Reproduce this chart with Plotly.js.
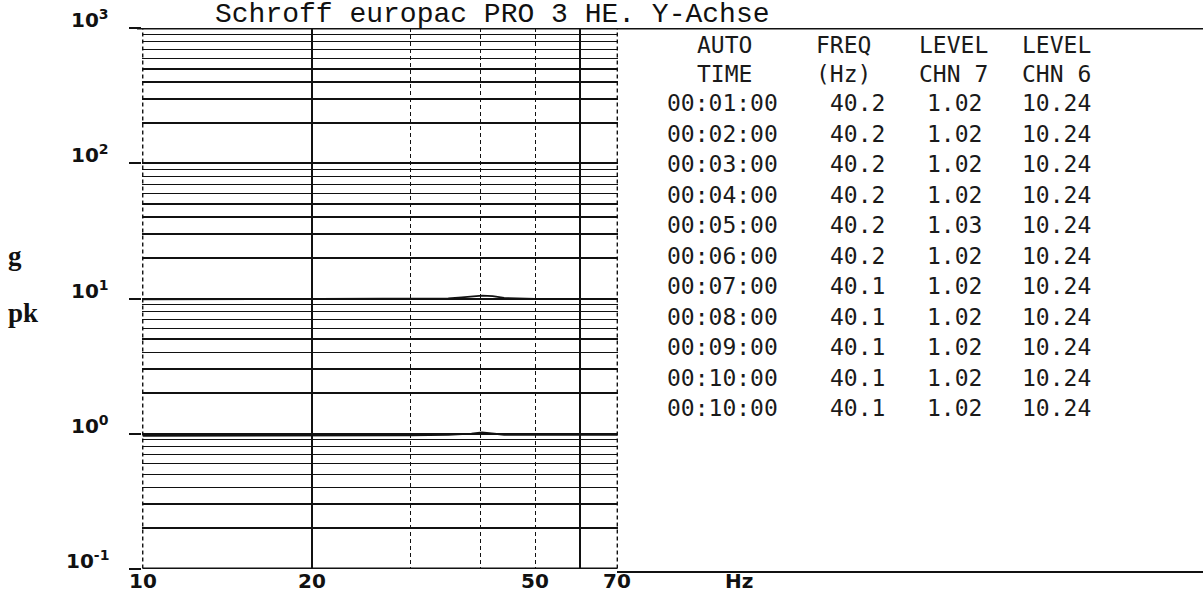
<!DOCTYPE html>
<html>
<head>
<meta charset="utf-8">
<script src="https://cdn.plot.ly/plotly-3.0.1.min.js"></script>
<style>html,body{margin:0;padding:0;background:#fff;}#chart{width:1203px;height:598px;}</style>
</head>
<body>
<div id="chart"></div>
<script>
// ---- data ----
const titleText = "Schroff europac PRO 3 HE. Y-Achse";
const yDecades = [0.1, 1, 10, 100, 1000];
const yDecadeLabels = ["10<sup>-1</sup>", "10<sup>0</sup>", "10<sup>1</sup>", "10<sup>2</sup>", "10<sup>3</sup>"];
const yMinorMultipliers = [2, 3, 4, 5, 6, 7, 8, 9];
const xLabelVals = [10, 20, 50, 70];
const xLabelText = ["10", "20", "50", "70"];
const xSolidLines = [20, 60];
const xDashedLines = [10, 30, 40, 50, 70];
const xRangeHz = [10, 70];
const yRangeG = [0.1, 1000];
const xUnit = "Hz";
const yUnitTop = "g";
const yUnitBottom = "pk";

// spectrum traces (g pk)
const freqHz = [10, 15, 20, 25, 30, 35, 37, 38.5, 40.2, 42, 44, 50, 60, 70];
const chn6g = [9.85, 9.9, 9.9, 9.9, 9.95, 10.0, 10.2, 10.4, 10.5, 10.4, 10.1, 9.95, 9.9, 9.9];
const chn7g = [0.96, 0.96, 0.97, 0.97, 0.97, 0.98, 0.99, 1.0, 1.02, 1.0, 0.98, 0.98, 0.98, 0.98];

// table
const tableHeaders = [["AUTO", "TIME"], ["FREQ", "(Hz)"], ["LEVEL", "CHN 7"], ["LEVEL", "CHN 6"]];
const autoTimes = ["00:01:00", "00:02:00", "00:03:00", "00:04:00", "00:05:00", "00:06:00", "00:07:00", "00:08:00", "00:09:00", "00:10:00", "00:10:00"];
const freqValues = [40.2, 40.2, 40.2, 40.2, 40.2, 40.2, 40.1, 40.1, 40.1, 40.1, 40.1];
const levelChn7 = [1.02, 1.02, 1.02, 1.02, 1.03, 1.02, 1.02, 1.02, 1.02, 1.02, 1.02];
const levelChn6 = [10.24, 10.24, 10.24, 10.24, 10.24, 10.24, 10.24, 10.24, 10.24, 10.24, 10.24];

// ---- layout geometry (pixels) ----
const W = 1203, H = 598;
const L = 142, R = 585, T = 28, B = 29;
const plotW = W - L - R, plotH = H - T - B;
const px = x => (x - L) / plotW;
const py = y => (H - B - y) / plotH;

const yMinor = [];
yDecades.slice(0, -1).forEach(d => yMinorMultipliers.forEach(m => yMinor.push(d * m)));

const ink = "#111";
const tickFont = {family: "DejaVu Sans", size: 20, color: ink, weight: 700};
const tableFont = {family: "DejaVu Sans Mono", size: 23, color: "#1a1a1a"};

const annotations = [];
annotations.push({text: titleText, xref: "paper", yref: "paper", x: px(213), y: py(15),
  xanchor: "left", yanchor: "middle", showarrow: false,
  font: {family: "Liberation Mono", size: 28, color: ink}});
yDecades.forEach((d, i) => annotations.push({text: yDecadeLabels[i], xref: "paper", yref: "y",
  x: px(111), y: Math.log10(d), xanchor: "right", yanchor: "bottom", yshift: -6,
  showarrow: false, font: tickFont}));
xLabelVals.forEach((v, i) => annotations.push({text: xLabelText[i], xref: "x", yref: "paper",
  x: Math.log10(v), y: py(581), xanchor: "center", yanchor: "middle", showarrow: false, font: tickFont}));
annotations.push({text: xUnit, xref: "paper", yref: "paper", x: px(739), y: py(581),
  xanchor: "center", yanchor: "middle", showarrow: false, font: tickFont});
annotations.push({text: yUnitTop, xref: "paper", yref: "paper", x: px(6), y: py(256),
  xanchor: "left", yanchor: "middle", showarrow: false,
  font: {family: "Liberation Serif", size: 27, color: ink, weight: 700}});
annotations.push({text: yUnitBottom, xref: "paper", yref: "paper", x: px(6), y: py(313),
  xanchor: "left", yanchor: "middle", showarrow: false,
  font: {family: "Liberation Serif", size: 27, color: ink, weight: 700}});

// table text
const headerX = [724, 843, 953, 1056];
const cellX = [722, 857, 954, 1056];
const headerY = [45, 74];
const rowY0 = 103, rowStep = 30.5;
tableHeaders.forEach((pair, c) => pair.forEach((t, r) => annotations.push({text: t,
  xref: "paper", yref: "paper", x: px(headerX[c]), y: py(headerY[r]), xanchor: "center",
  yanchor: "middle", showarrow: false, font: tableFont})));
autoTimes.forEach((t, i) => {
  const cells = [t, freqValues[i].toFixed(1), levelChn7[i].toFixed(2), levelChn6[i].toFixed(2)];
  cells.forEach((s, c) => annotations.push({text: s, xref: "paper", yref: "paper",
    x: px(cellX[c]), y: py(rowY0 + i * rowStep), xanchor: "center", yanchor: "middle",
    showarrow: false, font: tableFont}));
});

const shapes = [
  // top frame line running over the table
  {type: "line", xref: "paper", yref: "y", x0: px(137), x1: px(1203), y0: yRangeG[1], y1: yRangeG[1],
   line: {color: ink, width: 2}},
  // bottom frame line of the plot
  {type: "line", xref: "x", yref: "y", x0: xRangeHz[0], x1: xRangeHz[1], y0: yRangeG[0], y1: yRangeG[0],
   line: {color: ink, width: 2}},
  // bottom line under the table
  {type: "line", xref: "paper", yref: "paper", x0: px(617), x1: px(1203), y0: py(572), y1: py(572),
   line: {color: ink, width: 2}},
  // dashed frame edges at 10 Hz and 70 Hz
  {type: "line", xref: "x", yref: "y", x0: xRangeHz[0], x1: xRangeHz[0], y0: yRangeG[0], y1: yRangeG[1],
   line: {color: ink, width: 1.4, dash: "4px,3px"}},
  {type: "line", xref: "x", yref: "y", x0: xRangeHz[1], x1: xRangeHz[1], y0: yRangeG[0], y1: yRangeG[1],
   line: {color: ink, width: 1.4, dash: "4px,3px"}}
];

const traces = [
  {x: freqHz, y: chn6g, type: "scatter", mode: "lines", line: {color: ink, width: 1.8}, hoverinfo: "skip", showlegend: false},
  {x: freqHz, y: chn7g, type: "scatter", mode: "lines", line: {color: ink, width: 1.8}, hoverinfo: "skip", showlegend: false}
];

const layout = {
  width: W, height: H,
  margin: {l: L, r: R, t: T, b: B, pad: 0},
  paper_bgcolor: "#fff", plot_bgcolor: "#fff",
  showlegend: false,
  xaxis: {type: "log", range: [Math.log10(9.97), Math.log10(70.2)], tickmode: "array",
    tickvals: xSolidLines, showticklabels: false, ticks: "", showgrid: true, gridcolor: ink,
    gridwidth: 2, zeroline: false, showline: false, fixedrange: true,
    minor: {tickmode: "array", tickvals: xDashedLines, showgrid: true, gridcolor: ink,
      gridwidth: 1.3, griddash: "4px,3px", ticks: ""}},
  yaxis: {type: "log", range: [-1.003, 3.003], tickmode: "array", tickvals: yDecades,
    showticklabels: false, ticks: "outside", ticklen: 12, tickwidth: 2, tickcolor: ink,
    showgrid: true, gridcolor: ink, gridwidth: 2, zeroline: false, showline: false, fixedrange: true,
    minor: {tickmode: "array", tickvals: yMinor, showgrid: true, gridcolor: ink, gridwidth: 1.4, ticks: ""}},
  annotations: annotations,
  shapes: shapes
};

Plotly.newPlot("chart", traces, layout, {staticPlot: true, displayModeBar: false});
</script>
</body>
</html>
